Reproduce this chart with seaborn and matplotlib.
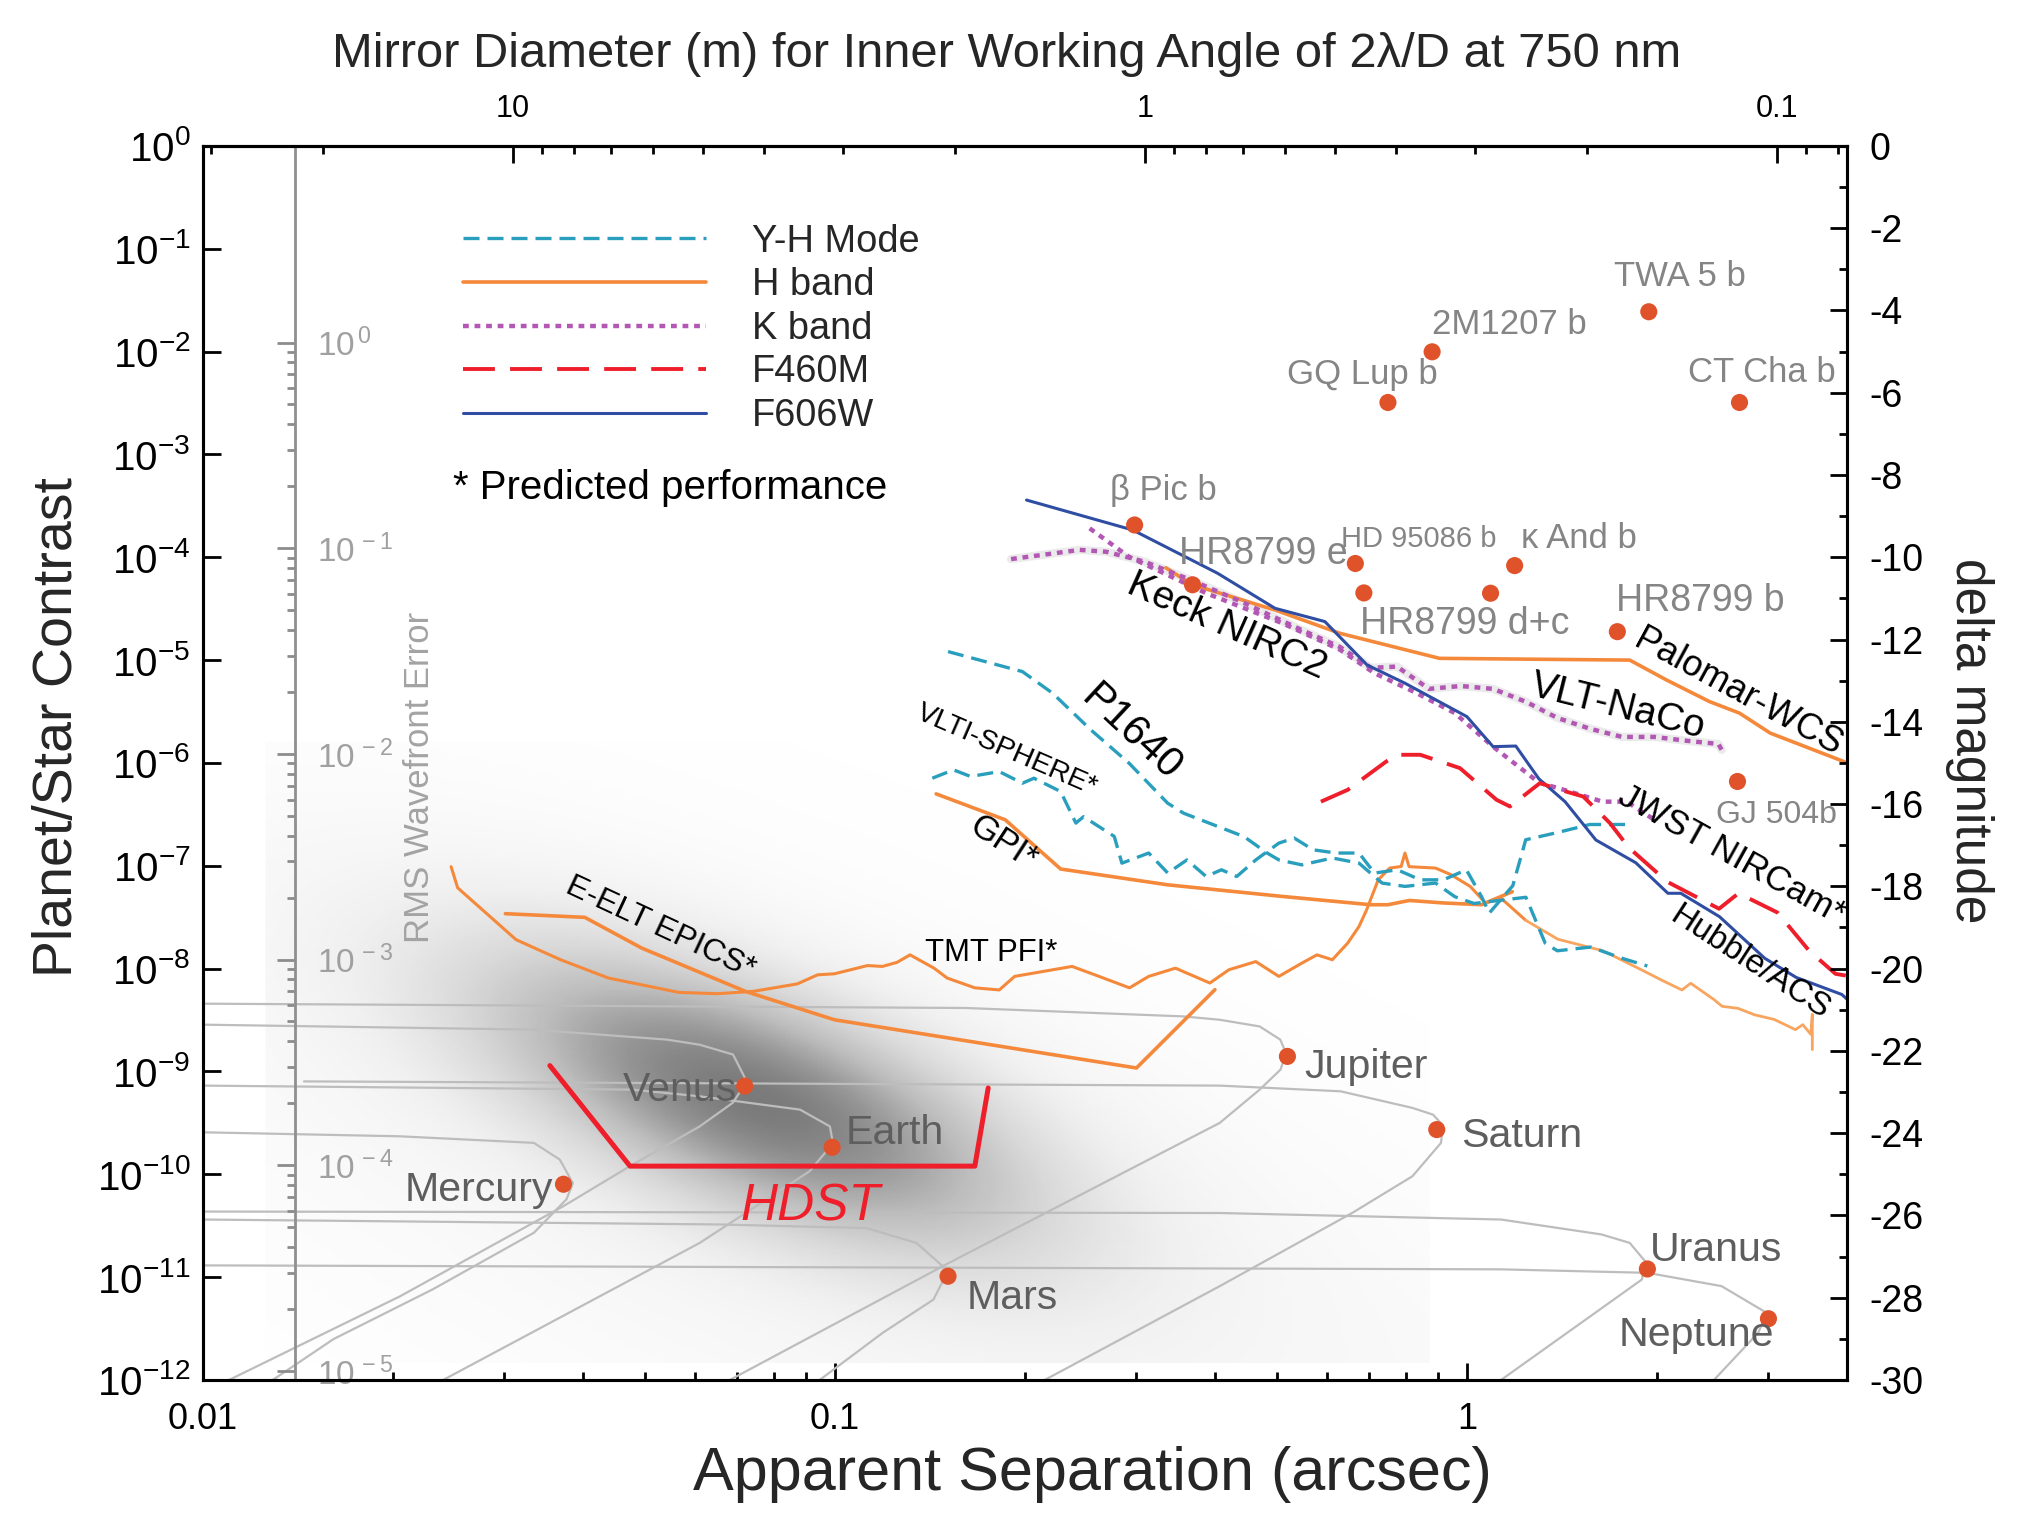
import numpy as np
import matplotlib
matplotlib.use('Agg')
import matplotlib.pyplot as plt
import matplotlib.ticker as mticker
from matplotlib.lines import Line2D
import seaborn as sns

# ---------------- data ----------------
# solar-system planets seen from 10 pc: separation (arcsec), contrast
planet_names = ['Mercury', 'Venus', 'Earth', 'Mars', 'Jupiter', 'Saturn', 'Uranus', 'Neptune']
planet_sep = [0.0372, 0.072, 0.099, 0.151, 0.52, 0.896, 1.93, 3.0]
planet_c = [8.0e-11, 7.2e-10, 1.83e-10, 1.02e-11, 1.4e-9, 2.72e-10, 1.2e-11, 3.94e-12]

# orbital phase curves (gray)
mercury_sep = [0.01, 0.0205, 0.0334, 0.0367, 0.0385, 0.0376, 0.0334, 0.0231, 0.0161, 0.0129]
mercury_c = [2.56e-10, 2.34e-10, 2.02e-10, 1.39e-10, 8.2e-11, 5.7e-11, 2.7e-11, 7.6e-12, 2.5e-12, 1.0e-12]
venus_sep = [0.01, 0.0333, 0.0542, 0.0611, 0.069, 0.0725, 0.069, 0.0611, 0.0474, 0.0372, 0.0205, 0.011]
venus_c = [2.85e-9, 2.55e-9, 2.04e-9, 1.82e-9, 1.46e-9, 8.0e-10, 4.98e-10, 2.92e-10, 1.2e-10, 4.9e-11, 6.5e-12, 1.0e-12]
earth_sep = [0.01, 0.0479, 0.0611, 0.0881, 0.0982, 0.0993, 0.0912, 0.0611, 0.024]
earth_c = [7.28e-10, 6.65e-10, 5.73e-10, 4.25e-10, 2.92e-10, 2.0e-10, 1.07e-10, 2.15e-11, 1.0e-12]
mars_sep = [0.01, 0.0658, 0.1122, 0.1346, 0.151, 0.1432, 0.1191, 0.0946]
mars_c = [3.63e-11, 3.25e-11, 3.0e-11, 2.15e-11, 1.15e-11, 6.05e-12, 2.88e-12, 1.0e-12]
jupiter_sep = [0.01, 0.161, 0.3556, 0.4064, 0.4699, 0.5066, 0.5176, 0.507, 0.4699, 0.4064, 0.1517, 0.0682]
jupiter_c = [4.56e-9, 4.14e-9, 3.43e-9, 3.18e-9, 2.74e-9, 2.04e-9, 1.5e-9, 1.04e-9, 6.65e-10, 3.16e-10, 1.38e-11, 1.0e-12]
saturn_sep = [0.01445, 0.4064, 0.631, 0.820, 0.884, 0.916, 0.910, 0.820, 0.659, 0.4064, 0.2148]
saturn_c = [8.0e-10, 7.28e-10, 6.41e-10, 4.42e-10, 3.8e-10, 3.0e-10, 2.02e-10, 9.57e-11, 4.22e-11, 8.17e-12, 1.0e-12]
uranus_sep = [0.01, 0.4064, 1.1324, 1.633, 1.81, 1.919, 1.892, 1.517, 1.1324]
uranus_c = [4.34e-11, 4.2e-11, 3.63e-11, 2.6e-11, 2.15e-11, 1.4e-11, 9.48e-12, 3.6e-12, 1.0e-12]
neptune_sep = [0.01, 1.1324, 1.932, 2.529, 2.979, 2.891, 2.460]
neptune_c = [1.3e-11, 1.19e-11, 1.1e-11, 8.17e-12, 4.5e-12, 2.88e-12, 1.0e-12]

# directly imaged companions
exo_names = ['TWA 5 b', '2M1207 b', 'GQ Lup b', 'CT Cha b', 'beta Pic b', 'HR8799 e', 'HD 95086 b',
             'HR8799 d', 'HR8799 c', 'kappa And b', 'HR8799 b', 'GJ 504b']
exo_sep = [1.94, 0.881, 0.75, 2.7, 0.298, 0.368, 0.666, 0.687, 1.09, 1.19, 1.73, 2.68]
exo_c = [2.44e-2, 9.95e-3, 3.2e-3, 3.2e-3, 2.06e-4, 5.4e-5, 8.7e-5, 4.5e-5, 4.47e-5, 8.3e-5, 1.89e-5, 6.6e-7]

# instrument contrast curves
palomar_sep = [0.334, 0.368, 0.497, 0.630, 0.905, 1.81, 2.07, 2.42, 2.70, 3.02, 4.0]
palomar_c = [7.9e-5, 5.4e-5, 3.07e-5, 1.82e-5, 1.04e-5, 1.0e-5, 6.4e-6, 3.95e-6, 3.05e-6, 1.95e-6, 1.0e-6]

acs_sep = [0.201, 0.296, 0.403, 0.497, 0.596, 0.695, 0.798, 1.0, 1.1, 1.195, 1.30, 1.43, 1.60, 1.85,
           2.08, 2.18, 2.51, 2.96, 3.32, 3.92, 4.0]
acs_c = [3.6e-4, 1.84e-4, 7.0e-5, 3.19e-5, 2.37e-5, 8.97e-6, 5.96e-6, 2.82e-6, 1.44e-6, 1.46e-6, 7.0e-7,
         4.2e-7, 1.78e-7, 1.07e-7, 5.4e-8, 5.4e-8, 3.2e-8, 1.26e-8, 8.2e-9, 5.6e-9, 5.0e-9]

naco_sep = [0.190, 0.244, 0.269, 0.309, 0.366, 0.444, 0.548, 0.630, 0.705, 0.775, 0.871, 0.978, 1.10,
            1.24, 1.39, 1.57, 1.76, 1.98, 2.23, 2.50, 2.53]
naco_c = [9.6e-5, 1.18e-4, 1.13e-4, 9.06e-5, 6.0e-5, 3.6e-5, 1.96e-5, 1.34e-5, 8.4e-6, 8.65e-6, 5.25e-6,
          5.6e-6, 5.25e-6, 3.93e-6, 2.74e-6, 2.14e-6, 1.79e-6, 1.79e-6, 1.64e-6, 1.53e-6, 1.34e-6]

keck_k_sep = [0.253, 0.292, 0.387, 0.511, 0.630, 0.714, 0.833, 0.957, 1.10, 1.30, 1.43, 1.64, 1.79, 2.0]
keck_k_c = [1.91e-4, 1.01e-4, 4.47e-5, 2.28e-5, 1.26e-5, 7.46e-6, 4.77e-6, 3.05e-6, 1.44e-6, 6.45e-7,
            5.43e-7, 4.2e-7, 4.2e-7, 2.69e-7]

nircam_sep = [0.5875, 0.648, 0.745, 0.775, 0.844, 0.975, 1.114, 1.17, 1.305, 1.404, 1.528, 1.684, 1.804,
              2.077, 2.506, 2.69, 3.10, 3.48, 3.83, 4.0]
nircam_c = [4.2e-7, 5.48e-7, 1.03e-6, 1.2e-6, 1.2e-6, 8.9e-7, 4.38e-7, 3.77e-7, 6.37e-7, 5.48e-7, 4.71e-7,
            2.6e-7, 1.5e-7, 6.96e-8, 3.82e-8, 5.4e-8, 3.51e-8, 1.49e-8, 8.9e-9, 8.5e-9]

p1640_sep = [0.151, 0.198, 0.221, 0.254, 0.292, 0.336, 0.356, 0.444, 0.483, 0.504, 0.548, 0.613, 0.675,
             0.734, 0.798, 0.892, 0.957, 1.026, 1.24, 1.33, 1.39, 1.57, 1.76, 1.93]
p1640_c = [1.21e-5, 7.73e-6, 4.77e-6, 2.1e-6, 9.95e-7, 4.07e-7, 3.25e-7, 1.92e-7, 1.33e-7, 1.14e-7, 1.02e-7,
           1.19e-7, 1.06e-7, 6.79e-8, 6.3e-8, 6.79e-8, 5.0e-8, 4.3e-8, 4.94e-8, 1.77e-8, 1.49e-8, 1.62e-8,
           1.26e-8, 1.06e-8]

sphere_sep = [0.1426, 0.154, 0.164, 0.182, 0.198, 0.2065, 0.2276, 0.2406, 0.2474, 0.2767, 0.2845, 0.3137,
              0.3363, 0.3606, 0.3867, 0.4089, 0.4324, 0.4634, 0.504, 0.533, 0.571, 0.621, 0.675, 0.714,
              0.776, 0.844, 0.918, 0.998, 1.055, 1.085, 1.182, 1.239, 1.393, 1.565, 1.80]
sphere_c = [7.1e-7, 8.57e-7, 7.38e-7, 8.24e-7, 6.35e-7, 7.1e-7, 5.27e-7, 2.6e-7, 3.0e-7, 1.93e-7, 1.06e-7,
            1.33e-7, 8.49e-8, 1.14e-7, 7.87e-8, 9.14e-8, 7.87e-8, 1.14e-7, 1.66e-7, 1.86e-7, 1.43e-7,
            1.33e-7, 1.33e-7, 8.49e-8, 9.14e-8, 7.3e-8, 7.3e-8, 9.14e-8, 5.0e-8, 3.47e-8, 6.4e-8, 1.79e-7,
            2.11e-7, 2.52e-7, 2.52e-7]

gpi_sep = [0.1446, 0.186, 0.2276, 0.336, 0.511, 0.704, 0.750, 0.811, 0.917, 1.055, 1.18]
gpi_c = [5.0e-7, 2.8e-7, 9.3e-8, 6.53e-8, 5.03e-8, 4.18e-8, 4.18e-8, 4.6e-8, 4.35e-8, 4.18e-8, 5.6e-8]

tmt_sep = [0.0247, 0.0253, 0.0313, 0.0368, 0.0438, 0.0566, 0.0651, 0.0742, 0.0872, 0.0939, 0.0998, 0.1126,
           0.1189, 0.1254, 0.1315, 0.1435, 0.1505, 0.1665, 0.182, 0.1925, 0.2213, 0.2373, 0.2618, 0.2925,
           0.3137, 0.3458, 0.392, 0.4202, 0.4634, 0.504, 0.548, 0.579, 0.6125, 0.6477, 0.675, 0.694, 0.724,
           0.755, 0.787, 0.798, 0.81, 0.892, 0.944, 1.012, 1.07, 1.128, 1.239]
tmt_c = [9.8e-8, 6.1e-8, 1.91e-8, 1.22e-8, 8.1e-9, 5.87e-9, 5.7e-9, 6.0e-9, 7.1e-9, 8.7e-9, 8.9e-9, 1.07e-8,
         1.05e-8, 1.15e-8, 1.36e-8, 1.01e-8, 8.1e-9, 6.5e-9, 6.2e-9, 8.4e-9, 9.75e-9, 1.05e-8, 8.4e-9,
         6.5e-9, 8.4e-9, 1.01e-8, 7.24e-9, 9.75e-9, 1.17e-8, 8.4e-9, 1.13e-8, 1.36e-8, 1.22e-8, 1.77e-8,
         2.57e-8, 3.73e-8, 7.31e-8, 9.5e-8, 9.84e-8, 1.33e-7, 9.8e-8, 9.5e-8, 8.18e-8, 6.3e-8, 4.35e-8,
         4.94e-8, 2.95e-8]
tmt_tail_sep = [1.239, 1.393, 1.642, 1.891, 2.035, 2.189, 2.26, 2.46, 2.534, 2.687, 2.85, 3.065, 3.31, 3.40,
                3.50, 3.52, 3.52]
tmt_tail_c = [2.95e-8, 1.93e-8, 1.49e-8, 9.7e-9, 7.7e-9, 6.2e-9, 7.2e-9, 5.0e-9, 4.3e-9, 4.1e-9, 3.56e-9,
              3.2e-9, 2.55e-9, 2.85e-9, 2.3e-9, 3.6e-9, 1.63e-9]

epics_sep = [0.0301, 0.0402, 0.0495, 0.0722, 0.0998, 0.300, 0.3993]
epics_c = [3.42e-8, 3.15e-8, 1.58e-8, 6.0e-9, 3.18e-9, 1.08e-9, 6.24e-9]

hdst_sep = [0.0354, 0.0474, 0.1665, 0.1748]
hdst_c = [1.14e-9, 1.2e-10, 1.2e-10, 6.9e-10]

legend_labels = ['Y-H Mode', 'H band', 'K band', 'F460M', 'F606W']

# RMS wavefront error scale: contrast = rms_scale * error**2
rms_scale = 10 ** -1.912
rms_major = [1.0, 1e-1, 1e-2, 1e-3, 1e-4, 1e-5]
rms_minor = [k * 10.0 ** n for n in range(-5, 0) for k in range(2, 10)]

# gray glow behind the terrestrial planets (log sep, log contrast)
blob_center = (-1.13, -9.25)
wash_center = (-1.0, -10.3)
blob_angle = 22.0

# ---------------- style ----------------
sns.set_theme(style='white')
plt.rcParams['font.family'] = ['Liberation Sans', 'DejaVu Sans']
plt.rcParams['mathtext.fontset'] = 'custom'
plt.rcParams['mathtext.rm'] = 'Liberation Sans'
plt.rcParams['mathtext.it'] = 'Liberation Sans:italic'
plt.rcParams['mathtext.bf'] = 'Liberation Sans:bold'
plt.rcParams['axes.unicode_minus'] = False
plt.rcParams['axes.edgecolor'] = 'black'
plt.rcParams['axes.linewidth'] = 1.1
plt.rcParams['xtick.color'] = 'black'
plt.rcParams['ytick.color'] = 'black'

orange = '#f5893b'
orange_light = '#f8a560'
blue = '#2f4ea3'
teal = '#2a9fbd'
magenta = '#b357b4'
red = '#ee1f2b'
dot = '#e0522a'
curve_gray = '#bdbdbd'
teal_ls = (0, (4.8, 2.4))
mag_ls = (0, (1.3, 1.3))
red_ls = (0, (8.2, 3.9))

fig = plt.figure(figsize=(2021 / 200, 1536 / 200), dpi=200)
ax = fig.add_axes([0.1004, 0.1016, 0.8137, 0.8034])
ax.set_xscale('log')
ax.set_yscale('log')


def curve(xs, ys, color, lw, ls='-', z=3):
    sns.lineplot(x=xs, y=ys, sort=False, estimator=None, color=color, linewidth=lw,
                 linestyle=ls, ax=ax, zorder=z)


# background glow
U, V = np.meshgrid(np.linspace(-1.90, -0.06, 260), np.linspace(-11.83, -5.8, 300))
ang = np.deg2rad(blob_angle)
du = (U - blob_center[0]) * 632.0
dv = (V - blob_center[1]) * 102.9
a = du * np.cos(ang) - dv * np.sin(ang)
b = du * np.sin(ang) + dv * np.cos(ang)
du2 = (U - wash_center[0]) * 632.0
dv2 = (V - wash_center[1]) * 102.9
a2 = du2 * np.cos(ang) - dv2 * np.sin(ang)
b2 = du2 * np.sin(ang) + dv2 * np.cos(ang)
glow = (0.52 * np.exp(-0.5 * ((a / 215) ** 2 + (b / 78) ** 2))
        + 0.085 * np.exp(-0.5 * ((a2 / 620) ** 2 + (b2 / 190) ** 2)))
ax.pcolormesh(10 ** U, 10 ** V, glow, cmap='Greys', vmin=0, vmax=1, shading='gouraud',
              zorder=0, rasterized=True)

# planet phase curves
for xs, ys in [(mercury_sep, mercury_c), (venus_sep, venus_c), (earth_sep, earth_c), (mars_sep, mars_c),
               (jupiter_sep, jupiter_c), (saturn_sep, saturn_c), (uranus_sep, uranus_c),
               (neptune_sep, neptune_c)]:
    curve(xs, ys, curve_gray, 0.8, z=1)

# instrument curves
curve(epics_sep, epics_c, orange, 1.3)
curve(tmt_sep, tmt_c, orange, 1.1)
curve(tmt_tail_sep, tmt_tail_c, orange_light, 1.0)
curve(gpi_sep, gpi_c, orange, 1.3)
curve(palomar_sep, palomar_c, orange, 1.3)
curve(p1640_sep, p1640_c, teal, 1.2, teal_ls)
curve(sphere_sep, sphere_c, teal, 1.2, teal_ls)
curve(naco_sep, naco_c, '#ebebeb', 3.0, z=2)
curve(naco_sep, naco_c, magenta, 1.6, mag_ls)
curve(keck_k_sep, keck_k_c, magenta, 1.6, mag_ls)
curve(acs_sep, acs_c, blue, 1.1)
curve(nircam_sep, nircam_c, red, 1.4, red_ls)
curve(hdst_sep, hdst_c, red, 1.8)

# planets and companions
sns.scatterplot(x=planet_sep, y=planet_c, color=dot, s=38, edgecolor='none', ax=ax, zorder=5)
sns.scatterplot(x=exo_sep, y=exo_c, color=dot, s=38, edgecolor='none', ax=ax, zorder=5)

ax.set_xlim(0.01, 4.0)
ax.set_ylim(1e-12, 1.0)

# ---------------- labels on the plot ----------------
solar_gray = '#5e5e5e'
for name, x, y, ha in [('Mercury', 0.0358, 7.1e-11, 'right'), ('Venus', 0.070, 6.65e-10, 'right'),
                       ('Earth', 0.1041, 2.54e-10, 'left'), ('Mars', 0.1618, 6.2e-12, 'left'),
                       ('Jupiter', 0.552, 1.11e-9, 'left'), ('Saturn', 0.98, 2.33e-10, 'left'),
                       ('Uranus', 1.95, 1.82e-11, 'left'), ('Neptune', 3.06, 2.73e-12, 'right')]:
    ax.text(x, y, name, ha=ha, va='center', color=solar_gray, fontsize=14.8, zorder=6)

exo_gray = '#858585'
for name, x, y, ha, fs in [('TWA 5 b', 2.17, 5.36e-2, 'center', 12.5),
                           ('2M1207 b', 0.880, 1.83e-2, 'left', 12.5),
                           ('GQ Lup b', 0.90, 6.04e-3, 'right', 12.5),
                           ('CT Cha b', 2.24, 6.25e-3, 'left', 12.5),
                           ('\u03b2 Pic b', 0.272, 4.45e-4, 'left', 12.5),
                           ('HR8799 e', 0.350, 1.08e-4, 'left', 13.5),
                           ('HD 95086 b', 0.631, 1.52e-4, 'left', 10.5),
                           ('\u03ba And b', 1.216, 1.52e-4, 'left', 12.5),
                           ('HR8799 d+c', 0.677, 2.25e-5, 'left', 13.5),
                           ('HR8799 b', 1.72, 3.76e-5, 'left', 13.5),
                           ('GJ 504b', 2.48, 3.13e-7, 'left', 11.5)]:
    ax.text(x, y, name, ha=ha, va='center', color=exo_gray, fontsize=fs, zorder=6)

for name, x, y, rot, fs in [('Keck NIRC2', 0.4175, 2.11e-5, -24, 14),
                            ('VLT-NaCo', 1.735, 3.53e-6, -14, 14),
                            ('Palomar-WCS', 2.687, 4.77e-6, -28.5, 13),
                            ('P1640', 0.2944, 1.95e-6, -43, 15),
                            ('VLTI-SPHERE*', 0.1873, 1.34e-6, -23.5, 10.2),
                            ('GPI*', 0.1846, 1.66e-7, -33, 12.5),
                            ('E-ELT EPICS*', 0.0530, 2.48e-8, -25, 11.5),
                            ('TMT PFI*', 0.177, 1.42e-8, 0, 11.2),
                            ('JWST NIRCam*', 2.627, 1.27e-7, -29, 12.7),
                            ('Hubble/ACS', 2.8, 1.15e-8, -33, 12)]:
    ax.text(x, y, name, ha='center', va='center', rotation=rot, rotation_mode='anchor',
            color='black', fontsize=fs, zorder=6)

ax.text(0.0916, 4.8e-11, 'HDST', ha='center', va='center', color=red, fontsize=18.5,
        style='italic', zorder=6)
ax.text(0.02205, 7.2e-7, 'RMS Wavefront Error', rotation=90, ha='center', va='center',
        color='#a3a3a3', fontsize=12.5, zorder=6)

# legend
handles = [Line2D([], [], color=teal, lw=1.2, ls=teal_ls),
           Line2D([], [], color=orange, lw=1.3),
           Line2D([], [], color=magenta, lw=1.6, ls=mag_ls),
           Line2D([], [], color=red, lw=1.4, ls=red_ls),
           Line2D([], [], color=blue, lw=1.1)]
ax.legend(handles, legend_labels, loc='upper left', bbox_to_anchor=(0.158, 0.937), frameon=False,
          fontsize=13.7, handlelength=6.4, handletextpad=1.2, labelspacing=0.2, borderpad=0,
          borderaxespad=0)
ax.text(0.152, 0.723, '* Predicted performance', transform=ax.transAxes, ha='left', va='center',
        fontsize=14.5, color='black')

# ---------------- axes ----------------
ax.yaxis.set_major_locator(mticker.LogLocator(base=10, numticks=20))
ax.yaxis.set_minor_locator(mticker.NullLocator())
ax.xaxis.set_major_formatter(mticker.FuncFormatter(lambda v, p: f'{v:g}'))
ax.xaxis.set_minor_formatter(mticker.NullFormatter())
ax.tick_params(axis='x', which='both', direction='in', bottom=True, top=False, labelsize=13, pad=8)
ax.tick_params(axis='x', which='major', length=6, width=1.0)
ax.tick_params(axis='x', which='minor', length=2.8, width=1.0)
ax.tick_params(axis='y', which='major', direction='in', left=True, right=False, length=6.5,
               width=1.0, labelsize=14.5, pad=4.5)

ax.set_xlabel('Apparent Separation (arcsec)', fontsize=22, va='center', ha='center')
ax.xaxis.set_label_coords(0.541, -0.077)
ax.set_ylabel('Planet/Star Contrast', fontsize=20, va='center', ha='center')
ax.yaxis.set_label_coords(-0.0882, 0.529)

# delta magnitude on the right
ax2 = ax.twinx()
ax2.set_ylim(-30, 0)
ax2.yaxis.set_major_locator(mticker.MultipleLocator(2))
ax2.yaxis.set_minor_locator(mticker.MultipleLocator(1))
ax2.tick_params(axis='y', which='both', direction='in', right=True, left=False, labelsize=13.5, pad=8)
ax2.tick_params(axis='y', which='major', length=6, width=1.0)
ax2.tick_params(axis='y', which='minor', length=3, width=1.0)
ax2.set_ylabel('delta magnitude', fontsize=18.5, rotation=-90, va='center', ha='center')
ax2.yaxis.set_label_coords(1.0745, 0.518)


# mirror diameter on top: D = 2 * lambda / theta at 750 nm
def sep_to_diam(x):
    return 0.3094 / np.maximum(np.asarray(x, float), 1e-300)


top = ax.secondary_xaxis('top', functions=(sep_to_diam, sep_to_diam))
top.xaxis.set_major_formatter(mticker.FuncFormatter(lambda v, p: f'{v:g}'))
top.xaxis.set_minor_formatter(mticker.NullFormatter())
top.tick_params(axis='x', which='both', direction='in', labelsize=11, pad=8, width=1.0)
top.tick_params(axis='x', which='major', length=6)
top.tick_params(axis='x', which='minor', length=2.8)
fig.text(0.4983, 0.9645, 'Mirror Diameter (m) for Inner Working Angle of 2\u03bb/D at 750 nm',
         ha='center', va='center', fontsize=17.6)


# RMS wavefront error scale drawn inside the plot
def c_to_rms(c):
    return np.sqrt(np.maximum(np.asarray(c, float), 1e-300) / rms_scale)


def rms_to_c(e):
    return rms_scale * np.asarray(e, float) ** 2


rms_ax = ax.secondary_yaxis(0.056, functions=(c_to_rms, rms_to_c))
rms_ax.set_alignment('right')
rms_ax.yaxis.set_major_locator(mticker.FixedLocator(rms_major))
rms_ax.yaxis.set_minor_locator(mticker.FixedLocator(rms_minor))
rms_ax.yaxis.set_major_formatter(mticker.FuncFormatter(
    lambda v, p: r'$\mathdefault{10^{\,%d}}$' % round(np.log10(v))))
rms_ax.yaxis.set_minor_formatter(mticker.NullFormatter())
rms_ax.tick_params(axis='y', which='both', direction='in', color='#8c8c8c', labelcolor='#a0a0a0',
                   labelsize=12, pad=8, width=1.0)
rms_ax.tick_params(axis='y', which='major', length=6.5)
rms_ax.tick_params(axis='y', which='minor', length=3)
rms_ax.spines['right'].set_color('#8f8f8f')
rms_ax.spines['right'].set_linewidth(1.0)
rms_ax.set_zorder(2)

fig.savefig('out.png', dpi=200)
